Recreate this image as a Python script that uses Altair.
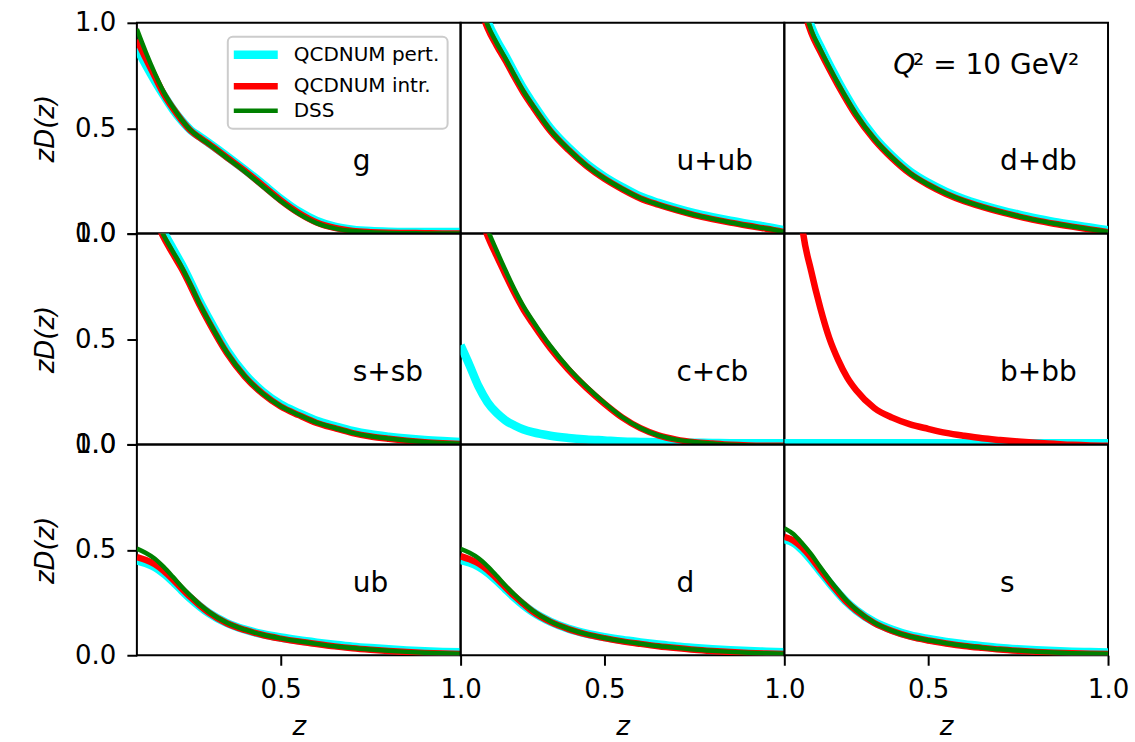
import altair as alt
import pandas as pd

# ---- data ----
Z = [0.10, 0.125, 0.15, 0.175, 0.20, 0.225, 0.25, 0.275, 0.30, 0.35, 0.40, 0.45,
     0.50, 0.55, 0.60, 0.65, 0.70, 0.75, 0.80, 0.85, 0.90, 0.95, 1.00]

PANELS = ["g", "u+ub", "d+db", "s+sb", "c+cb", "b+bb", "ub", "d", "s"]
SERIES = ["QCDNUM pert.", "QCDNUM intr.", "DSS"]
COLORS = ["#00ffff", "#ff0000", "#008000"]
WIDTHS = [8.5, 4.5, 5]

X_TICKS = [0.5, 1.0]
Y_TICKS = [0.0, 0.5, 1.0]
LABEL_Z = [0.7]
LABEL_V = [0.3]

G_PERT = [0.88, 0.80, 0.725, 0.655, 0.59, 0.535, 0.49, 0.46, 0.43, 0.368, 0.303, 0.235, 0.165, 0.105, 0.06, 0.033, 0.019, 0.012, 0.009, 0.008, 0.008, 0.008, 0.008]
G_INTR = [0.92, 0.83, 0.745, 0.662, 0.595, 0.537, 0.488, 0.455, 0.426, 0.362, 0.298, 0.228, 0.158, 0.098, 0.053, 0.027, 0.013, 0.007, 0.004, 0.003, 0.002, 0.001, 0.001]
G_DSS = [0.97, 0.86, 0.76, 0.67, 0.60, 0.54, 0.49, 0.455, 0.425, 0.36, 0.295, 0.225, 0.155, 0.095, 0.05, 0.025, 0.012, 0.006, 0.003, 0.002, 0.001, 0.0, 0.0]

UUB_PERT = [1.62, 1.35, 1.14, 1.005, 0.918, 0.842, 0.762, 0.686, 0.62, 0.499, 0.408, 0.331, 0.27, 0.22, 0.176, 0.146, 0.12, 0.097, 0.078, 0.061, 0.046, 0.032, 0.016]
UUB_INTR = [1.58, 1.31, 1.10, 0.975, 0.893, 0.82, 0.742, 0.668, 0.604, 0.486, 0.397, 0.321, 0.26, 0.21, 0.167, 0.137, 0.111, 0.088, 0.069, 0.052, 0.037, 0.023, 0.007]
UUB_DSS = [1.60, 1.33, 1.12, 0.99, 0.905, 0.83, 0.75, 0.675, 0.61, 0.49, 0.40, 0.323, 0.262, 0.212, 0.168, 0.138, 0.112, 0.089, 0.07, 0.053, 0.038, 0.024, 0.008]

DDB_PERT = [1.67, 1.37, 1.13, 0.98, 0.888, 0.802, 0.722, 0.646, 0.575, 0.459, 0.368, 0.294, 0.241, 0.198, 0.163, 0.136, 0.112, 0.091, 0.072, 0.056, 0.042, 0.029, 0.016]
DDB_INTR = [1.63, 1.33, 1.095, 0.952, 0.864, 0.781, 0.702, 0.628, 0.559, 0.446, 0.357, 0.284, 0.231, 0.188, 0.154, 0.127, 0.103, 0.082, 0.063, 0.047, 0.033, 0.02, 0.007]
DDB_DSS = [1.65, 1.35, 1.11, 0.965, 0.875, 0.79, 0.71, 0.635, 0.565, 0.45, 0.36, 0.286, 0.233, 0.19, 0.155, 0.128, 0.104, 0.083, 0.064, 0.048, 0.034, 0.021, 0.008]

SSB_PERT = [1.31, 1.19, 1.095, 1.005, 0.928, 0.852, 0.767, 0.677, 0.597, 0.448, 0.334, 0.25, 0.19, 0.149, 0.112, 0.087, 0.064, 0.048, 0.037, 0.028, 0.021, 0.016, 0.012]
SSB_INTR = [1.29, 1.16, 1.07, 0.98, 0.905, 0.832, 0.748, 0.66, 0.58, 0.434, 0.322, 0.24, 0.18, 0.139, 0.102, 0.077, 0.054, 0.038, 0.027, 0.018, 0.011, 0.006, 0.002]
SSB_DSS = [1.30, 1.17, 1.08, 0.99, 0.915, 0.84, 0.755, 0.665, 0.585, 0.437, 0.324, 0.241, 0.181, 0.14, 0.103, 0.078, 0.055, 0.039, 0.028, 0.019, 0.012, 0.007, 0.003]

CCB_PERT = [0.47, 0.375, 0.275, 0.2, 0.15, 0.114, 0.09, 0.071, 0.058, 0.041, 0.031, 0.024, 0.019, 0.014, 0.012, 0.01, 0.009, 0.008, 0.007, 0.006, 0.006, 0.006, 0.006]
CCB_INTR = [1.46, 1.26, 1.11, 0.99, 0.895, 0.805, 0.718, 0.64, 0.575, 0.455, 0.354, 0.268, 0.193, 0.127, 0.077, 0.043, 0.023, 0.011, 0.004, -0.002, -0.005, -0.006, -0.006]
CCB_DSS = [1.50, 1.30, 1.14, 1.02, 0.92, 0.825, 0.735, 0.655, 0.588, 0.466, 0.362, 0.274, 0.197, 0.129, 0.078, 0.043, 0.023, 0.012, 0.004, -0.002, -0.005, -0.006, -0.006]

BBB_PERT = [0.006, 0.006, 0.006, 0.006, 0.006, 0.006, 0.006, 0.006, 0.006, 0.006, 0.006, 0.006, 0.006, 0.006, 0.006, 0.006, 0.006, 0.006, 0.006, 0.006, 0.006, 0.006, 0.006]
BBB_INTR = [2.40, 1.50, 1.03, 0.82, 0.648, 0.505, 0.40, 0.317, 0.257, 0.173, 0.127, 0.095, 0.074, 0.055, 0.041, 0.029, 0.021, 0.014, 0.008, 0.003, -0.002, -0.005, -0.006]
BBB_DSS = [-0.02, -0.02, -0.02, -0.02, -0.02, -0.02, -0.02, -0.02, -0.02, -0.02, -0.02, -0.02, -0.02, -0.02, -0.02, -0.02, -0.02, -0.02, -0.02, -0.02, -0.02, -0.02, -0.02]

UB_PERT = [0.45, 0.437, 0.418, 0.388, 0.35, 0.308, 0.268, 0.232, 0.2, 0.153, 0.122, 0.1, 0.084, 0.071, 0.06, 0.05, 0.041, 0.034, 0.028, 0.023, 0.019, 0.016, 0.014]
UB_INTR = [0.466, 0.452, 0.432, 0.40, 0.36, 0.316, 0.274, 0.236, 0.202, 0.152, 0.12, 0.096, 0.079, 0.065, 0.053, 0.042, 0.033, 0.026, 0.02, 0.015, 0.011, 0.008, 0.006]
UB_DSS = [0.506, 0.485, 0.458, 0.418, 0.372, 0.324, 0.281, 0.24, 0.206, 0.154, 0.121, 0.097, 0.08, 0.066, 0.054, 0.043, 0.034, 0.027, 0.021, 0.016, 0.012, 0.009, 0.007]

D_PERT = [0.452, 0.44, 0.421, 0.392, 0.355, 0.314, 0.274, 0.238, 0.206, 0.159, 0.126, 0.103, 0.086, 0.072, 0.061, 0.051, 0.042, 0.035, 0.029, 0.024, 0.02, 0.017, 0.014]
D_INTR = [0.47, 0.455, 0.435, 0.404, 0.365, 0.322, 0.28, 0.243, 0.208, 0.158, 0.124, 0.099, 0.081, 0.066, 0.054, 0.043, 0.034, 0.026, 0.02, 0.015, 0.011, 0.008, 0.006]
D_DSS = [0.505, 0.486, 0.46, 0.422, 0.377, 0.33, 0.287, 0.247, 0.212, 0.16, 0.125, 0.1, 0.082, 0.067, 0.055, 0.044, 0.035, 0.027, 0.021, 0.016, 0.012, 0.009, 0.007]

S_PERT = [0.55, 0.535, 0.5, 0.452, 0.398, 0.345, 0.295, 0.25, 0.213, 0.158, 0.121, 0.094, 0.077, 0.063, 0.052, 0.043, 0.035, 0.029, 0.024, 0.02, 0.017, 0.015, 0.013]
S_INTR = [0.562, 0.545, 0.51, 0.462, 0.405, 0.35, 0.298, 0.25, 0.212, 0.153, 0.115, 0.088, 0.07, 0.056, 0.044, 0.035, 0.027, 0.021, 0.016, 0.012, 0.009, 0.007, 0.006]
S_DSS = [0.603, 0.575, 0.53, 0.478, 0.418, 0.36, 0.306, 0.256, 0.216, 0.155, 0.116, 0.089, 0.071, 0.057, 0.045, 0.036, 0.028, 0.022, 0.017, 0.013, 0.01, 0.008, 0.007]

VALUES = {
    "g": [G_PERT, G_INTR, G_DSS],
    "u+ub": [UUB_PERT, UUB_INTR, UUB_DSS],
    "d+db": [DDB_PERT, DDB_INTR, DDB_DSS],
    "s+sb": [SSB_PERT, SSB_INTR, SSB_DSS],
    "c+cb": [CCB_PERT, CCB_INTR, CCB_DSS],
    "b+bb": [BBB_PERT, BBB_INTR, BBB_DSS],
    "ub": [UB_PERT, UB_INTR, UB_DSS],
    "d": [D_PERT, D_INTR, D_DSS],
    "s": [S_PERT, S_INTR, S_DSS],
}

rows = []
for panel in PANELS:
    for sname, vals in zip(SERIES, VALUES[panel]):
        for z, v in zip(Z, vals):
            rows.append({"panel": panel, "series": sname, "z": z, "v": v})
df = pd.DataFrame(rows)

labels_df = pd.DataFrame({"panel": PANELS, "label": PANELS,
                          "z": LABEL_Z * len(PANELS), "v": LABEL_V * len(PANELS)})
q2_df = pd.DataFrame({"z": [0.4028], "v": [0.758], "a": ["Q"], "b": ["\u00b2 = 10 GeV\u00b2"], "z2": [0.458]})

FONT = "DejaVu Sans"
color_scale = alt.Scale(domain=SERIES, range=COLORS)
width_scale = alt.Scale(domain=SERIES, range=WIDTHS)

legend = alt.Legend(
    title=None, orient="none", legendX=91, legendY=14,
    fillColor="white", strokeColor="#cccccc", cornerRadius=5, padding=8,
    labelFontSize=20, labelFont=FONT, labelColor="black",
    symbolType="M-2.4,0H6.4", symbolSize=100, labelOffset=38, rowPadding=1.5,
)


def make_panel(i):
    r, c = divmod(i, 3)
    name = PANELS[i]
    x_axis = alt.Axis(values=X_TICKS, format=".1f", title="z", titleFontStyle="italic",
                      labelFlush=False, titleY=79, titleBaseline="alphabetic") if r == 2 else None
    y_axis = alt.Axis(values=Y_TICKS, format=".1f", title="zD(z)", titleFontStyle="italic",
                      titleX=-83.5, titleY=105.5, titleAlign="center",
                      titleBaseline="alphabetic") if c == 0 else None
    xs = alt.Scale(domain=[0.1, 1.0], nice=False, zero=False)
    x = alt.X("z:Q", scale=xs, axis=x_axis)
    y = alt.Y("v:Q", scale=alt.Scale(domain=[0.0, 1.0], nice=False, zero=False), axis=y_axis)
    base = alt.Chart(df).transform_filter(alt.datum.panel == name)
    layers = []
    for sname in SERIES:
        layers.append(
            base.transform_filter(alt.datum.series == sname)
            .mark_line(clip=True, interpolate="monotone")
            .encode(
                x=x, y=y,
                color=alt.Color("series:N", scale=color_scale, legend=legend),
                strokeWidth=alt.StrokeWidth("series:N", scale=width_scale, legend=legend),
            )
        )
    layers.append(
        alt.Chart(labels_df).transform_filter(alt.datum.panel == name)
        .mark_text(align="left", baseline="alphabetic", fontSize=28, font=FONT, color="black")
        .encode(x=x, y=y, text="label:N")
    )
    if name == "d+db":
        layers.append(
            alt.Chart(q2_df).mark_text(align="left", baseline="alphabetic", fontSize=28,
                                       font=FONT, fontStyle="italic", color="black")
            .encode(x=x, y=y, text="a:N")
        )
        layers.append(
            alt.Chart(q2_df).mark_text(align="left", baseline="alphabetic", fontSize=28,
                                       font=FONT, color="black")
            .encode(x=alt.X("z2:Q", scale=xs, axis=x_axis), y=y, text="b:N")
        )
    return alt.layer(*layers).properties(width=324, height=211)


chart = alt.concat(*[make_panel(i) for i in range(9)], columns=3, spacing=0, bounds="flush")
chart = chart.resolve_scale(color="shared", strokeWidth="shared").resolve_legend(
    color="shared", strokeWidth="shared")
chart = chart.properties(padding={"left": 31, "top": 8.5, "right": 5, "bottom": 5})
chart = chart.configure_view(stroke="black", strokeWidth=2).configure_axis(
    labelFont=FONT, titleFont=FONT, labelFontSize=26, titleFontSize=26,
    labelColor="black", titleColor="black", tickColor="black", tickWidth=2,
    tickSize=10, labelPadding=11, domain=False, grid=False, titleFontWeight="normal",
).configure_legend(strokeWidth=2)

chart.save("out.html", embed_options={"renderer": "svg", "actions": False})
